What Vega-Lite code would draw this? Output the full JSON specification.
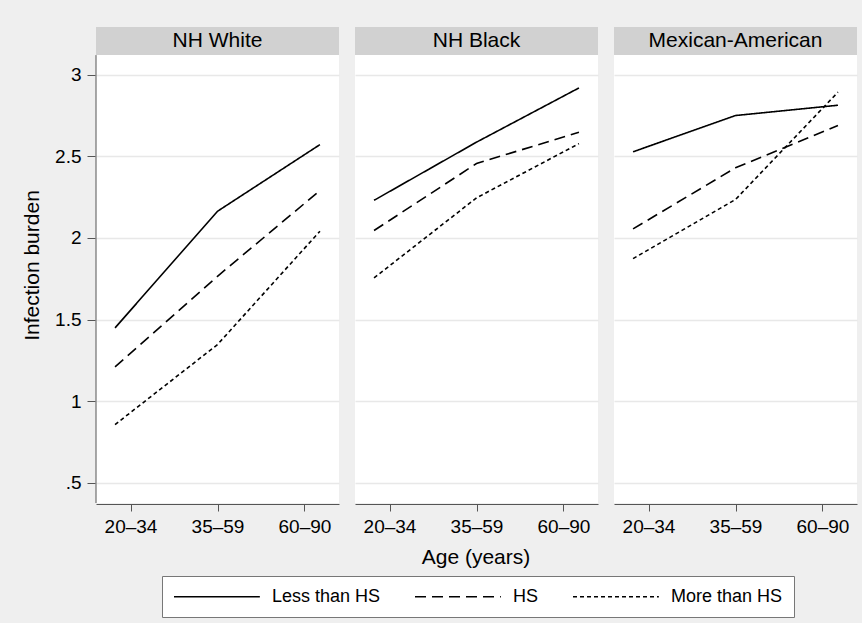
{
  "$schema": "https://vega.github.io/schema/vega-lite/v6.json",
  "background": "#efefef",
  "padding": {"left": 21, "top": 27, "right": 5, "bottom": 5},
  "config": {
    "font": "Liberation Sans",
    "view": {"fill": "white", "stroke": null},
    "axis": {"labelColor": "black", "titleColor": "black", "titleFontWeight": "normal", "domainColor": "#555555", "tickColor": "#555555"}
  },
  "data": {"values": [
    {"race": "NH White", "edu": "Less than HS", "age": "20–34", "agepos": 0.822, "burden": 1.449},
    {"race": "NH White", "edu": "Less than HS", "age": "35–59", "agepos": 2, "burden": 2.163},
    {"race": "NH White", "edu": "Less than HS", "age": "60–90", "agepos": 3.178, "burden": 2.571},
    {"race": "NH White", "edu": "HS", "age": "20–34", "agepos": 0.822, "burden": 1.21},
    {"race": "NH White", "edu": "HS", "age": "35–59", "agepos": 2, "burden": 1.765},
    {"race": "NH White", "edu": "HS", "age": "60–90", "agepos": 3.178, "burden": 2.29},
    {"race": "NH White", "edu": "More than HS", "age": "20–34", "agepos": 0.822, "burden": 0.857},
    {"race": "NH White", "edu": "More than HS", "age": "35–59", "agepos": 2, "burden": 1.347},
    {"race": "NH White", "edu": "More than HS", "age": "60–90", "agepos": 3.178, "burden": 2.041},
    {"race": "NH Black", "edu": "Less than HS", "age": "20–34", "agepos": 0.822, "burden": 2.23},
    {"race": "NH Black", "edu": "Less than HS", "age": "35–59", "agepos": 2, "burden": 2.586},
    {"race": "NH Black", "edu": "Less than HS", "age": "60–90", "agepos": 3.178, "burden": 2.918},
    {"race": "NH Black", "edu": "HS", "age": "20–34", "agepos": 0.822, "burden": 2.045},
    {"race": "NH Black", "edu": "HS", "age": "35–59", "agepos": 2, "burden": 2.455},
    {"race": "NH Black", "edu": "HS", "age": "60–90", "agepos": 3.178, "burden": 2.647},
    {"race": "NH Black", "edu": "More than HS", "age": "20–34", "agepos": 0.822, "burden": 1.755},
    {"race": "NH Black", "edu": "More than HS", "age": "35–59", "agepos": 2, "burden": 2.245},
    {"race": "NH Black", "edu": "More than HS", "age": "60–90", "agepos": 3.178, "burden": 2.577},
    {"race": "Mexican-American", "edu": "Less than HS", "age": "20–34", "agepos": 0.822, "burden": 2.527},
    {"race": "Mexican-American", "edu": "Less than HS", "age": "35–59", "agepos": 2, "burden": 2.749},
    {"race": "Mexican-American", "edu": "Less than HS", "age": "60–90", "agepos": 3.178, "burden": 2.812},
    {"race": "Mexican-American", "edu": "HS", "age": "20–34", "agepos": 0.822, "burden": 2.055},
    {"race": "Mexican-American", "edu": "HS", "age": "35–59", "agepos": 2, "burden": 2.429},
    {"race": "Mexican-American", "edu": "HS", "age": "60–90", "agepos": 3.178, "burden": 2.688},
    {"race": "Mexican-American", "edu": "More than HS", "age": "20–34", "agepos": 0.822, "burden": 1.873},
    {"race": "Mexican-American", "edu": "More than HS", "age": "35–59", "agepos": 2, "burden": 2.235},
    {"race": "Mexican-American", "edu": "More than HS", "age": "60–90", "agepos": 3.178, "burden": 2.892}
  ]},
  "facet": {
    "column": {
      "field": "race", "type": "nominal",
      "sort": ["NH White", "NH Black", "Mexican-American"],
      "header": {"labels": false, "title": "Age (years)", "titleOrient": "bottom", "titleFontSize": 21, "titleFontWeight": "normal", "titleColor": "black", "titlePadding": 1}
    }
  },
  "spacing": 16,
  "spec": {
    "width": 243,
    "height": 476,
    "layer": [
      {
        "mark": {"type": "line", "color": "black", "strokeWidth": 1.6},
        "encoding": {
          "x": {
            "field": "agepos", "type": "quantitative",
            "scale": {"domain": [0.603, 3.397], "nice": false, "zero": false},
            "axis": {"values": [1, 2, 3], "labelExpr": "['', '20–34', '35–59', '60–90'][datum.value]", "grid": false, "title": null, "labelFontSize": 19, "tickSize": 7, "labelPadding": 6, "labelFlush": false}
          },
          "y": {
            "field": "burden", "type": "quantitative",
            "scale": {"domain": [0.377, 3.291], "nice": false, "zero": false},
            "axis": {"values": [0.5, 1, 1.5, 2, 2.5, 3], "format": "~g", "labelExpr": "datum.value == 0.5 ? '.5' : datum.label", "grid": true, "gridColor": "#e8e8e8", "gridWidth": 1.5, "domain": false, "tickSize": 8, "labelFontSize": 19, "labelPadding": 6, "title": "Infection burden", "titleFontSize": 21, "titlePadding": 12}
          },
          "strokeDash": {
            "field": "edu", "type": "nominal",
            "scale": {"domain": ["Less than HS", "HS", "More than HS"], "range": [[1, 0], [11, 6], [4, 3]]},
            "legend": {"title": null, "orient": "none", "legendX": 66, "legendY": 549, "direction": "horizontal", "symbolType": "M -1 0 H 9.1", "symbolSize": 289, "symbolStrokeWidth": 1.6, "symbolStrokeColor": "black", "symbolFillColor": "transparent", "labelFontSize": 18, "labelColor": "black", "labelOffset": 80, "columnPadding": 30, "fillColor": "white", "strokeColor": "#777777", "padding": 11, "labelLimit": 300}
          }
        }
      },
      {
        "transform": [{"filter": "datum.race == 'NH White'"}, {"aggregate": [{"op": "count", "as": "n"}], "groupby": ["race"]}],
        "mark": {"type": "rule", "color": "#555555", "strokeWidth": 1},
        "encoding": {"x": {"datum": 0.603}, "y": {"datum": 0.377}, "y2": {"datum": 3.119}}
      },
      {
        "transform": [{"aggregate": [{"op": "count", "as": "n"}], "groupby": ["race"]}],
        "mark": {"type": "rect", "color": "#d1d1d1"},
        "encoding": {"y": {"datum": 3.119}, "y2": {"datum": 3.291}}
      },
      {
        "transform": [{"aggregate": [{"op": "count", "as": "n"}], "groupby": ["race"]}],
        "mark": {"type": "text", "color": "black", "fontSize": 21, "baseline": "middle"},
        "encoding": {"y": {"datum": 3.205}, "text": {"field": "race"}}
      }
    ]
  }
}
